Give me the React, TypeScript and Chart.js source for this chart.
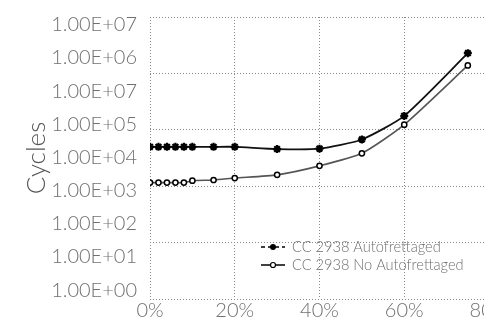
import React, { useEffect, useRef } from "react";
import { Chart, registerables } from "chart.js";

Chart.register(...registerables);

// Data
const xPercent = [0, 2, 4, 6, 8, 10, 15, 20, 30, 40, 50, 60, 75];
const autofrettaged = [2.1e4, 2.1e4, 2.1e4, 2.1e4, 2.1e4, 2.1e4, 2.1e4, 2.1e4, 1.8e4, 1.85e4, 3.5e4, 1.8e5, 1.4e7];
const noAutofrettaged = [1750, 1750, 1750, 1750, 1750, 2000, 2100, 2400, 3000, 5600, 1.34e4, 9.8e4, 6.0e6];
const seriesNames = ["CC 2938 Autofrettaged", "CC 2938 No Autofrettaged"];
const yTickValues = [1, 1e1, 1e2, 1e3, 1e4, 1e5, 1e6, 1e7, 1e8];
const yTickLabels = ["1.00E+00", "1.00E+01", "1.00E+02", "1.00E+03", "1.00E+04", "1.00E+05", "1.00E+07", "1.00E+06", "1.00E+07"];
const xTickValues = [0, 20, 40, 60, 80];

const FONT = "Lato";
const TICK_COLOR = "#707070";
const GRID_COLOR = "#8a8a8a";

const legendPlugin = {
  id: "customLegend",
  afterDraw(chart: any) {
    const ctx = chart.ctx;
    const x0 = 261, x1 = 285, xm = 273, tx = 292;
    const rows = [247, 265];
    ctx.save();
    ctx.strokeStyle = "#000";
    ctx.lineWidth = 1.5;
    ctx.setLineDash([4, 3]);
    ctx.beginPath();
    ctx.moveTo(x0, rows[0]);
    ctx.lineTo(x1, rows[0]);
    ctx.stroke();
    ctx.setLineDash([]);
    ctx.fillStyle = "#000";
    ctx.beginPath();
    ctx.arc(xm, rows[0], 3, 0, Math.PI * 2);
    ctx.fill();
    ctx.beginPath();
    ctx.moveTo(x0, rows[1]);
    ctx.lineTo(x1, rows[1]);
    ctx.stroke();
    ctx.fillStyle = "#fff";
    ctx.beginPath();
    ctx.arc(xm, rows[1], 2.5, 0, Math.PI * 2);
    ctx.fill();
    ctx.lineWidth = 1.2;
    ctx.stroke();
    ctx.fillStyle = TICK_COLOR;
    ctx.font = `300 14.6px ${FONT}`;
    ctx.textBaseline = "middle";
    ctx.textAlign = "left";
    ctx.fillText(seriesNames[0], tx, rows[0]);
    ctx.fillText(seriesNames[1], tx, rows[1]);
    ctx.restore();
  },
};

export default function App() {
  const ref = useRef<HTMLCanvasElement | null>(null);
  useEffect(() => {
    if (!ref.current) return;
    const chart = new Chart(ref.current, {
      type: "line",
      data: {
        datasets: [
          {
            label: seriesNames[0],
            data: xPercent.map((x, i) => ({ x, y: autofrettaged[i] })),
            borderColor: "#111",
            borderWidth: 1.8,
            pointStyle: "star",
            pointRadius: 4,
            pointBorderWidth: 2.2,
            pointBorderColor: "#000",
            pointBackgroundColor: "#000",
            tension: 0.2,
            yAxisID: "y",
          },
          {
            label: seriesNames[1],
            data: xPercent.map((x, i) => ({ x, y: noAutofrettaged[i] })),
            borderColor: "#555",
            borderWidth: 1.6,
            pointStyle: "circle",
            pointRadius: 2.6,
            pointBorderWidth: 1.5,
            pointBorderColor: "#000",
            pointBackgroundColor: "#fff",
            tension: 0.2,
            yAxisID: "y",
          },
        ],
      },
      options: {
        animation: false,
        responsive: false,
        layout: { padding: { top: 13, right: 20, left: 0, bottom: 0 } },
        plugins: { legend: { display: false }, tooltip: { enabled: false } },
        scales: {
          x: {
            type: "linear",
            min: 0,
            max: 80,
            afterBuildTicks: (s: any) => {
              s.ticks = xTickValues.map((v) => ({ value: v }));
            },
            afterFit: (s: any) => {
              s.height = 22;
            },
            ticks: {
              color: TICK_COLOR,
              font: { family: FONT, size: 20, weight: "300" },
              padding: 0,
              callback: (v: any) => `${v}%`,
              maxRotation: 0,
            },
            grid: { color: GRID_COLOR, lineWidth: 1, drawTicks: false },
            border: { display: false, dash: [1, 2] },
          },
          y: {
            type: "logarithmic",
            position: "left",
            min: Math.pow(10, -0.2677),
            max: Math.pow(10, 8.2379),
            afterBuildTicks: (s: any) => {
              s.ticks = yTickValues.map((v) => ({ value: v }));
            },
            afterFit: (s: any) => {
              s.width = 150;
            },
            ticks: {
              color: TICK_COLOR,
              font: { family: FONT, size: 20, weight: "300" },
              padding: 5,
              autoSkip: false,
              callback: (_v: any, i: number) => yTickLabels[i],
            },
            grid: { display: false },
            border: { display: false },
            title: {
              display: true,
              text: "Cycles",
              color: "#555",
              font: { family: FONT, size: 26, weight: "300" },
              padding: { top: 21, bottom: 0 },
            },
          },
          yGrid: {
            type: "linear",
            position: "right",
            min: 0,
            max: 5,
            ticks: { display: false, stepSize: 1 },
            grid: { color: GRID_COLOR, lineWidth: 1, drawTicks: false },
            border: { display: false, dash: [1, 2] },
          },
        },
      },
      plugins: [legendPlugin],
    });
    return () => chart.destroy();
  }, []);
  return (
    <div style={{ position: "absolute", left: 0, top: 0, width: 484, height: 321, overflow: "hidden", background: "#fff" }}>
      <canvas ref={ref} width={509} height={321} style={{ width: 509, height: 321, display: "block" }} />
    </div>
  );
}
